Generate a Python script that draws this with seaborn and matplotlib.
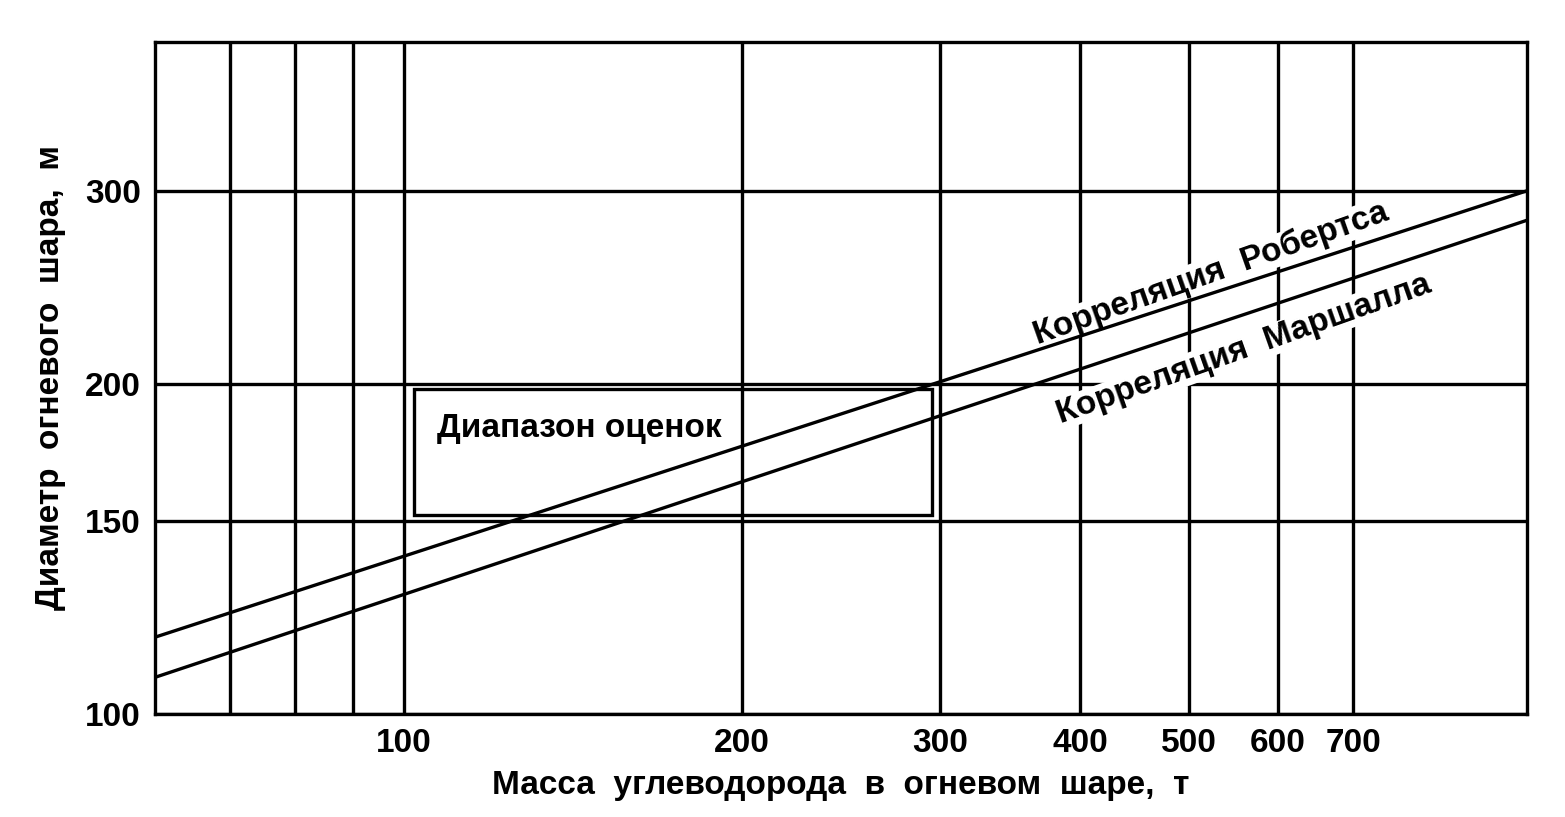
import matplotlib
matplotlib.use("Agg")
import matplotlib.pyplot as plt
import numpy as np
import pandas as pd
import seaborn as sns
from matplotlib.patches import Rectangle

# масса углеводорода, т (концы линий)
mass = [60, 1000]
roberts = [117.5, 300]
marshall = [108, 282]

# диапазон оценок
box_mass = [102, 295]
box_diam = [152, 198]

x_grid = [70, 80, 90, 100, 200, 300, 400, 500, 600, 700]
x_labels = ["", "", "", "100", "200", "300", "400", "500", "600", "700"]
y_grid = [100, 150, 200, 300]
y_labels = ["100", "150", "200", "300"]

sns.set_theme(style="white")
plt.rcParams["font.family"] = ["Liberation Sans", "DejaVu Sans"]
plt.rcParams["font.weight"] = "bold"
plt.rcParams["axes.labelweight"] = "bold"
for key in ["text.color", "axes.labelcolor", "xtick.color", "ytick.color"]:
    plt.rcParams[key] = "black"

FS = 24

df = pd.DataFrame({
    "mass": mass * 2,
    "diam": roberts + marshall,
    "corr": ["Робертс"] * 2 + ["Маршалл"] * 2,
})

fig = plt.figure(figsize=(15.65, 8.17), dpi=100)
ax = fig.add_axes([155 / 1565, 103 / 817, (1527 - 155) / 1565, (714 - 42) / 817])

sns.lineplot(data=df, x="mass", y="diam", units="corr", estimator=None,
             color="black", lw=2.4, ax=ax, legend=False, zorder=5)

ax.set_xscale("log")
ax.set_yscale("log")
ax.set_xlim(60, 1000)
ax.set_ylim(100, 410)

ax.set_xticks(x_grid)
ax.set_xticklabels(x_labels)
ax.set_yticks(y_grid)
ax.set_yticklabels(y_labels)
ax.minorticks_off()
ax.tick_params(length=0, labelsize=FS, pad=10)
ax.grid(True, color="black", lw=2.4)
for s in ax.spines.values():
    s.set_color("black")
    s.set_linewidth(2.4)

ax.add_patch(Rectangle((box_mass[0], box_diam[0]), box_mass[1] - box_mass[0],
                       box_diam[1] - box_diam[0], fill=False, ec="black", lw=2.4, zorder=3))
ax.text(107, 182, "Диапазон оценок", fontsize=FS, va="center", ha="left")

ax.text(523, 252, "Корреляция  Робертса", fontsize=FS, rotation=19.5,
        ha="center", va="center",
        bbox=dict(fc="white", ec="none", pad=0.3), zorder=3)
ax.text(560, 215, "Корреляция  Маршалла", fontsize=FS, rotation=19.5,
        ha="center", va="center",
        bbox=dict(fc="white", ec="none", pad=0.3), zorder=3)

ax.set_xlabel("Масса  углеводорода  в  огневом  шаре,  т", fontsize=FS, labelpad=8)
ax.set_ylabel("Диаметр  огневого  шара,  м", fontsize=FS, labelpad=14)

fig.savefig("out.png", dpi=100)
